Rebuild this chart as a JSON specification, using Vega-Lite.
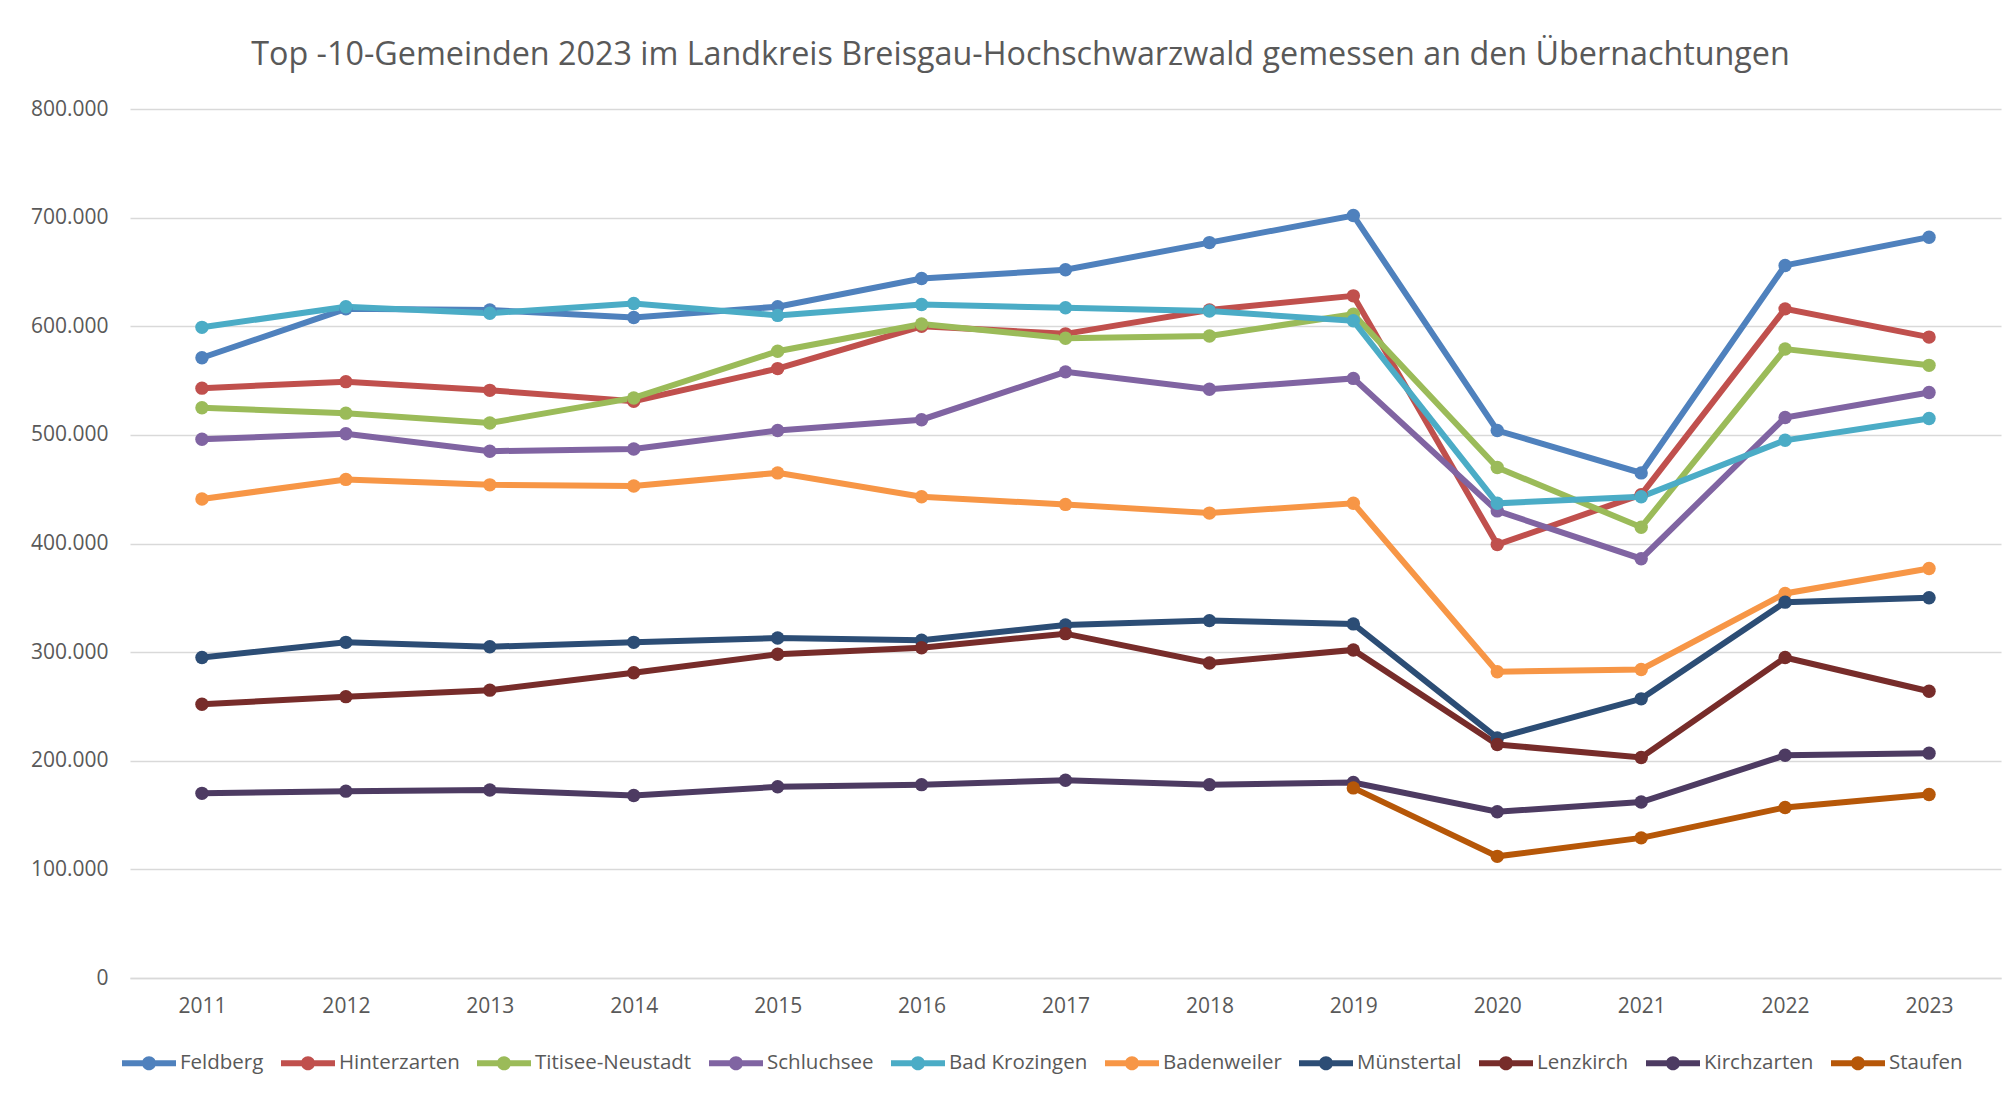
{
  "$schema": "https://vega.github.io/schema/vega-lite/v6.json",
  "width": 1871,
  "height": 869,
  "autosize": {"type": "none"},
  "padding": {"left": 130, "top": 109, "right": 14, "bottom": 118},
  "background": "white",
  "config": {
    "locale": {"number": {"decimal": ",", "thousands": ".", "grouping": [3], "currency": ["", " €"]}},
    "font": "Open Sans",
    "view": {"stroke": null}
  },
  "title": {
    "text": "Top -10-Gemeinden 2023 im Landkreis Breisgau-Hochschwarzwald gemessen an den Übernachtungen",
    "font": "Open Sans",
    "fontSize": 32.3,
    "fontWeight": "normal",
    "color": "#595959",
    "anchor": "middle",
    "dx": -45,
    "offset": 27
  },
  "data": {
    "values": [
      {"g": "Feldberg", "year": "2011", "v": 571000},
      {"g": "Feldberg", "year": "2012", "v": 616000},
      {"g": "Feldberg", "year": "2013", "v": 615000},
      {"g": "Feldberg", "year": "2014", "v": 608000},
      {"g": "Feldberg", "year": "2015", "v": 618000},
      {"g": "Feldberg", "year": "2016", "v": 644000},
      {"g": "Feldberg", "year": "2017", "v": 652000},
      {"g": "Feldberg", "year": "2018", "v": 677000},
      {"g": "Feldberg", "year": "2019", "v": 702000},
      {"g": "Feldberg", "year": "2020", "v": 504000},
      {"g": "Feldberg", "year": "2021", "v": 465000},
      {"g": "Feldberg", "year": "2022", "v": 656000},
      {"g": "Feldberg", "year": "2023", "v": 682000},
      {"g": "Hinterzarten", "year": "2011", "v": 543000},
      {"g": "Hinterzarten", "year": "2012", "v": 549000},
      {"g": "Hinterzarten", "year": "2013", "v": 541000},
      {"g": "Hinterzarten", "year": "2014", "v": 531000},
      {"g": "Hinterzarten", "year": "2015", "v": 561000},
      {"g": "Hinterzarten", "year": "2016", "v": 600000},
      {"g": "Hinterzarten", "year": "2017", "v": 593000},
      {"g": "Hinterzarten", "year": "2018", "v": 615000},
      {"g": "Hinterzarten", "year": "2019", "v": 628000},
      {"g": "Hinterzarten", "year": "2020", "v": 399000},
      {"g": "Hinterzarten", "year": "2021", "v": 445000},
      {"g": "Hinterzarten", "year": "2022", "v": 616000},
      {"g": "Hinterzarten", "year": "2023", "v": 590000},
      {"g": "Titisee-Neustadt", "year": "2011", "v": 525000},
      {"g": "Titisee-Neustadt", "year": "2012", "v": 520000},
      {"g": "Titisee-Neustadt", "year": "2013", "v": 511000},
      {"g": "Titisee-Neustadt", "year": "2014", "v": 534000},
      {"g": "Titisee-Neustadt", "year": "2015", "v": 577000},
      {"g": "Titisee-Neustadt", "year": "2016", "v": 602000},
      {"g": "Titisee-Neustadt", "year": "2017", "v": 589000},
      {"g": "Titisee-Neustadt", "year": "2018", "v": 591000},
      {"g": "Titisee-Neustadt", "year": "2019", "v": 611000},
      {"g": "Titisee-Neustadt", "year": "2020", "v": 470000},
      {"g": "Titisee-Neustadt", "year": "2021", "v": 415000},
      {"g": "Titisee-Neustadt", "year": "2022", "v": 579000},
      {"g": "Titisee-Neustadt", "year": "2023", "v": 564000},
      {"g": "Schluchsee", "year": "2011", "v": 496000},
      {"g": "Schluchsee", "year": "2012", "v": 501000},
      {"g": "Schluchsee", "year": "2013", "v": 485000},
      {"g": "Schluchsee", "year": "2014", "v": 487000},
      {"g": "Schluchsee", "year": "2015", "v": 504000},
      {"g": "Schluchsee", "year": "2016", "v": 514000},
      {"g": "Schluchsee", "year": "2017", "v": 558000},
      {"g": "Schluchsee", "year": "2018", "v": 542000},
      {"g": "Schluchsee", "year": "2019", "v": 552000},
      {"g": "Schluchsee", "year": "2020", "v": 430000},
      {"g": "Schluchsee", "year": "2021", "v": 386000},
      {"g": "Schluchsee", "year": "2022", "v": 516000},
      {"g": "Schluchsee", "year": "2023", "v": 539000},
      {"g": "Bad Krozingen", "year": "2011", "v": 599000},
      {"g": "Bad Krozingen", "year": "2012", "v": 618000},
      {"g": "Bad Krozingen", "year": "2013", "v": 612000},
      {"g": "Bad Krozingen", "year": "2014", "v": 621000},
      {"g": "Bad Krozingen", "year": "2015", "v": 610000},
      {"g": "Bad Krozingen", "year": "2016", "v": 620000},
      {"g": "Bad Krozingen", "year": "2017", "v": 617000},
      {"g": "Bad Krozingen", "year": "2018", "v": 614000},
      {"g": "Bad Krozingen", "year": "2019", "v": 605000},
      {"g": "Bad Krozingen", "year": "2020", "v": 437000},
      {"g": "Bad Krozingen", "year": "2021", "v": 443000},
      {"g": "Bad Krozingen", "year": "2022", "v": 495000},
      {"g": "Bad Krozingen", "year": "2023", "v": 515000},
      {"g": "Badenweiler", "year": "2011", "v": 441000},
      {"g": "Badenweiler", "year": "2012", "v": 459000},
      {"g": "Badenweiler", "year": "2013", "v": 454000},
      {"g": "Badenweiler", "year": "2014", "v": 453000},
      {"g": "Badenweiler", "year": "2015", "v": 465000},
      {"g": "Badenweiler", "year": "2016", "v": 443000},
      {"g": "Badenweiler", "year": "2017", "v": 436000},
      {"g": "Badenweiler", "year": "2018", "v": 428000},
      {"g": "Badenweiler", "year": "2019", "v": 437000},
      {"g": "Badenweiler", "year": "2020", "v": 282000},
      {"g": "Badenweiler", "year": "2021", "v": 284000},
      {"g": "Badenweiler", "year": "2022", "v": 354000},
      {"g": "Badenweiler", "year": "2023", "v": 377000},
      {"g": "Münstertal", "year": "2011", "v": 295000},
      {"g": "Münstertal", "year": "2012", "v": 309000},
      {"g": "Münstertal", "year": "2013", "v": 305000},
      {"g": "Münstertal", "year": "2014", "v": 309000},
      {"g": "Münstertal", "year": "2015", "v": 313000},
      {"g": "Münstertal", "year": "2016", "v": 311000},
      {"g": "Münstertal", "year": "2017", "v": 325000},
      {"g": "Münstertal", "year": "2018", "v": 329000},
      {"g": "Münstertal", "year": "2019", "v": 326000},
      {"g": "Münstertal", "year": "2020", "v": 221000},
      {"g": "Münstertal", "year": "2021", "v": 257000},
      {"g": "Münstertal", "year": "2022", "v": 346000},
      {"g": "Münstertal", "year": "2023", "v": 350000},
      {"g": "Lenzkirch", "year": "2011", "v": 252000},
      {"g": "Lenzkirch", "year": "2012", "v": 259000},
      {"g": "Lenzkirch", "year": "2013", "v": 265000},
      {"g": "Lenzkirch", "year": "2014", "v": 281000},
      {"g": "Lenzkirch", "year": "2015", "v": 298000},
      {"g": "Lenzkirch", "year": "2016", "v": 304000},
      {"g": "Lenzkirch", "year": "2017", "v": 317000},
      {"g": "Lenzkirch", "year": "2018", "v": 290000},
      {"g": "Lenzkirch", "year": "2019", "v": 302000},
      {"g": "Lenzkirch", "year": "2020", "v": 215000},
      {"g": "Lenzkirch", "year": "2021", "v": 203000},
      {"g": "Lenzkirch", "year": "2022", "v": 295000},
      {"g": "Lenzkirch", "year": "2023", "v": 264000},
      {"g": "Kirchzarten", "year": "2011", "v": 170000},
      {"g": "Kirchzarten", "year": "2012", "v": 172000},
      {"g": "Kirchzarten", "year": "2013", "v": 173000},
      {"g": "Kirchzarten", "year": "2014", "v": 168000},
      {"g": "Kirchzarten", "year": "2015", "v": 176000},
      {"g": "Kirchzarten", "year": "2016", "v": 178000},
      {"g": "Kirchzarten", "year": "2017", "v": 182000},
      {"g": "Kirchzarten", "year": "2018", "v": 178000},
      {"g": "Kirchzarten", "year": "2019", "v": 180000},
      {"g": "Kirchzarten", "year": "2020", "v": 153000},
      {"g": "Kirchzarten", "year": "2021", "v": 162000},
      {"g": "Kirchzarten", "year": "2022", "v": 205000},
      {"g": "Kirchzarten", "year": "2023", "v": 207000},
      {"g": "Staufen", "year": "2019", "v": 175000},
      {"g": "Staufen", "year": "2020", "v": 112000},
      {"g": "Staufen", "year": "2021", "v": 129000},
      {"g": "Staufen", "year": "2022", "v": 157000},
      {"g": "Staufen", "year": "2023", "v": 169000}
    ]
  },
  "encoding": {
    "x": {
      "field": "year",
      "type": "ordinal",
      "scale": {"type": "point", "padding": 0.5},
      "axis": {
        "title": null,
        "labelAngle": 0,
        "labelFont": "Open Sans",
        "labelFontSize": 21,
        "labelColor": "#595959",
        "labelPadding": 17,
        "ticks": false,
        "domainColor": "#D9D9D9",
        "domainWidth": 1.5,
        "grid": false
      }
    },
    "y": {
      "field": "v",
      "type": "quantitative",
      "scale": {"domain": [0, 800000], "nice": false, "zero": true},
      "axis": {
        "title": null,
        "values": [0, 100000, 200000, 300000, 400000, 500000, 600000, 700000, 800000],
        "format": ",.0f",
        "labelFont": "Open Sans",
        "labelFontSize": 21,
        "labelColor": "#595959",
        "labelPadding": 22,
        "ticks": false,
        "domain": false,
        "grid": true,
        "gridColor": "#D9D9D9",
        "gridWidth": 1.5
      }
    },
    "color": {
      "field": "g",
      "type": "nominal",
      "sort": null,
      "scale": {
        "domain": ["Feldberg", "Hinterzarten", "Titisee-Neustadt", "Schluchsee", "Bad Krozingen", "Badenweiler", "Münstertal", "Lenzkirch", "Kirchzarten", "Staufen"],
        "range": ["#4F81BD", "#C0504D", "#9BBB59", "#8064A2", "#4BACC6", "#F79646", "#2C4D75", "#772C2A", "#4D3B62", "#B65708"]
      },
      "legend": {
        "title": null,
        "orient": "none",
        "direction": "horizontal",
        "columns": 10,
        "legendX": -8,
        "legendY": 927,
        "labelFont": "Open Sans",
        "labelFontSize": 20.5,
        "labelColor": "#595959",
        "labelOffset": 4,
        "columnPadding": 17,
        "symbolType": "M-1,-0.11L1,-0.11L1,0.11L-1,0.11Z M-0.26,0 A0.26,0.26 0 1,1 0.26,0 A0.26,0.26 0 1,1 -0.26,0 Z",
        "symbolSize": 2916,
        "symbolStrokeWidth": 0,
        "symbolOpacity": 1,
        "encode": {
          "symbols": {
            "update": {
              "size": {"value": 2916},
              "shape": {"value": "M-1,-0.11L1,-0.11L1,0.11L-1,0.11Z M-0.26,0 A0.26,0.26 0 1,1 0.26,0 A0.26,0.26 0 1,1 -0.26,0 Z"},
              "strokeWidth": {"value": 0},
              "opacity": {"value": 1}
            }
          }
        }
      }
    }
  },
  "mark": {
    "type": "line",
    "strokeWidth": 6,
    "point": {"filled": true, "size": 180, "opacity": 1}
  }
}
